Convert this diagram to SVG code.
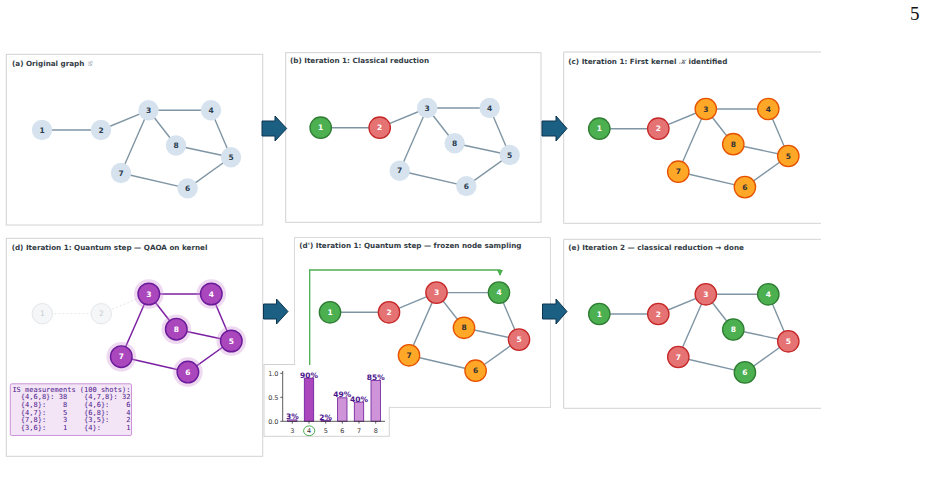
<svg xmlns="http://www.w3.org/2000/svg" width="927" height="483" viewBox="0 0 927 483">
<style>
.frame{fill:#fff;stroke:#d2d2d2;stroke-width:1}
.open{fill:none;stroke:#d2d2d2;stroke-width:1}
.e{stroke:#7f95a4;stroke-width:1.4;fill:none}
.ep{stroke:#7b1fa2;stroke-width:1.5;fill:none}
.ef{stroke:#e3e7ea;stroke-width:1;stroke-dasharray:2 2;fill:none}
.light{fill:#d6e3ef}
.green{fill:#4caf50;stroke:#2e7d32;stroke-width:1.3}
.red{fill:#e57373;stroke:#c62828;stroke-width:1.3}
.orange{fill:#ffa726;stroke:#e65100;stroke-width:1.3}
.purple{fill:#ab47bc;stroke:#6a1b9a;stroke-width:1.4}
.halo{fill:#ce93d8;opacity:0.35}
.faded{fill:#f5f6f7;stroke:#e3e6ea;stroke-width:1}
.lbl{font-family:"DejaVu Sans",sans-serif;font-size:7.5px;font-weight:bold;text-anchor:middle;dominant-baseline:central}
.ld{fill:#2c3e50}
.lo{fill:#333}
.lw{fill:#fff}
.lf{fill:#c6cbd0;font-weight:normal}
.title{font-family:"DejaVu Sans",sans-serif;font-size:7.2px;font-weight:bold;fill:#333c45}
.arrow{fill:#1b5f82;stroke:#0d3550;stroke-width:1}
.tick{font-family:"DejaVu Sans",sans-serif;font-size:6.5px;fill:#333}
.pct{font-family:"DejaVu Sans",sans-serif;font-size:7.5px;font-weight:bold;fill:#4a148c;text-anchor:middle}
.bar{fill:#ce93d8;stroke:#6a1b9a;stroke-width:0.8}
.bar4{fill:#ab47bc;stroke:#6a1b9a;stroke-width:0.8}
.ax{stroke:#333;stroke-width:0.8;fill:none}
.mono{font-family:"DejaVu Sans Mono",monospace;font-size:7px;fill:#4a148c;white-space:pre}
</style>
<defs>
<marker id="gh" viewBox="0 0 6 6" refX="5" refY="3" markerWidth="6" markerHeight="6" orient="auto" markerUnits="userSpaceOnUse">
<path d="M0,0 L6,3 L0,6 Z" fill="#4caf50"/>
</marker>
</defs>
<rect width="927" height="483" fill="#fff"/>
<text x="910" y="20" font-family="Liberation Serif, serif" font-size="19" fill="#111">5</text>

<!-- frames -->
<g id="frames">
<rect class="frame" x="6.3" y="54.3" width="256.4" height="170.7"/>
<rect class="frame" x="285.7" y="52.7" width="255.3" height="169.6"/>
<path class="open" d="M821,52 H563.7 V223.3 H821"/>
<rect class="frame" x="6.3" y="238.3" width="256.4" height="218"/>
<rect class="frame" x="294.7" y="237.7" width="255.6" height="169.6"/>
<rect class="frame" x="264" y="364.5" width="125.3" height="71.8"/>
<rect fill="#fff" x="295.2" y="238.2" width="254.6" height="168.6"/>
<path class="open" d="M821,239.3 H563.7 V408.3 H821"/>
</g>

<!-- connectors -->
<g id="connectors">
<g transform="translate(42,130)">
<line class="e" x1="0" y1="0" x2="59" y2="0"/><line class="e" x1="59" y1="0" x2="106.5" y2="-19.7"/><line class="e" x1="106.5" y1="-19.7" x2="169" y2="-19.7"/><line class="e" x1="106.5" y1="-19.7" x2="134" y2="15.5"/><line class="e" x1="106.5" y1="-19.7" x2="79" y2="43"/><line class="e" x1="169" y1="-19.7" x2="189" y2="27.3"/><line class="e" x1="134" y1="15.5" x2="189" y2="27.3"/><line class="e" x1="189" y1="27.3" x2="145.6" y2="58.4"/><line class="e" x1="79" y1="43" x2="145.6" y2="58.4"/>
</g>
<g transform="translate(320.7,127.7)">
<line class="e" x1="0" y1="0" x2="59" y2="0"/><line class="e" x1="59" y1="0" x2="106.5" y2="-19.7"/><line class="e" x1="106.5" y1="-19.7" x2="169" y2="-19.7"/><line class="e" x1="106.5" y1="-19.7" x2="134" y2="15.5"/><line class="e" x1="106.5" y1="-19.7" x2="79" y2="43"/><line class="e" x1="169" y1="-19.7" x2="189" y2="27.3"/><line class="e" x1="134" y1="15.5" x2="189" y2="27.3"/><line class="e" x1="189" y1="27.3" x2="145.6" y2="58.4"/><line class="e" x1="79" y1="43" x2="145.6" y2="58.4"/>
</g>
<g transform="translate(599.3,128.7)">
<line class="e" x1="0" y1="0" x2="59" y2="0"/><line class="e" x1="59" y1="0" x2="106.5" y2="-19.7"/><line class="e" x1="106.5" y1="-19.7" x2="169" y2="-19.7"/><line class="e" x1="106.5" y1="-19.7" x2="134" y2="15.5"/><line class="e" x1="106.5" y1="-19.7" x2="79" y2="43"/><line class="e" x1="169" y1="-19.7" x2="189" y2="27.3"/><line class="e" x1="134" y1="15.5" x2="189" y2="27.3"/><line class="e" x1="189" y1="27.3" x2="145.6" y2="58.4"/><line class="e" x1="79" y1="43" x2="145.6" y2="58.4"/>
</g>
<g transform="translate(42.3,313.7)">
<line class="ef" x1="0" y1="0" x2="59" y2="0"/><line class="ef" x1="59" y1="0" x2="106.5" y2="-19.7"/><line class="ep" x1="106.5" y1="-19.7" x2="169" y2="-19.7"/><line class="ep" x1="106.5" y1="-19.7" x2="134" y2="15.5"/><line class="ep" x1="106.5" y1="-19.7" x2="79" y2="43"/><line class="ep" x1="169" y1="-19.7" x2="189" y2="27.3"/><line class="ep" x1="134" y1="15.5" x2="189" y2="27.3"/><line class="ep" x1="189" y1="27.3" x2="145.6" y2="58.4"/><line class="ep" x1="79" y1="43" x2="145.6" y2="58.4"/>
</g>
<g transform="translate(330,312.3)">
<line class="e" x1="0" y1="0" x2="59" y2="0"/><line class="e" x1="59" y1="0" x2="106.5" y2="-19.7"/><line class="e" x1="106.5" y1="-19.7" x2="169" y2="-19.7"/><line class="e" x1="106.5" y1="-19.7" x2="134" y2="15.5"/><line class="e" x1="106.5" y1="-19.7" x2="79" y2="43"/><line class="e" x1="169" y1="-19.7" x2="189" y2="27.3"/><line class="e" x1="134" y1="15.5" x2="189" y2="27.3"/><line class="e" x1="189" y1="27.3" x2="145.6" y2="58.4"/><line class="e" x1="79" y1="43" x2="145.6" y2="58.4"/>
</g>
<g transform="translate(599.3,314)">
<line class="e" x1="0" y1="0" x2="59" y2="0"/><line class="e" x1="59" y1="0" x2="106.5" y2="-19.7"/><line class="e" x1="106.5" y1="-19.7" x2="169" y2="-19.7"/><line class="e" x1="106.5" y1="-19.7" x2="134" y2="15.5"/><line class="e" x1="106.5" y1="-19.7" x2="79" y2="43"/><line class="e" x1="169" y1="-19.7" x2="189" y2="27.3"/><line class="e" x1="134" y1="15.5" x2="189" y2="27.3"/><line class="e" x1="189" y1="27.3" x2="145.6" y2="58.4"/><line class="e" x1="79" y1="43" x2="145.6" y2="58.4"/>
</g>
<path d="M309.7,365 V270 H500 V275" fill="none" stroke="#4caf50" stroke-width="1.3" marker-end="url(#gh)"/>
</g>

<!-- panel (a) nodes -->
<g transform="translate(42,130)">
<g id="a-n1"><circle class="light" r="10.2"/><text class="lbl ld">1</text></g>
<g id="a-n2" transform="translate(59,0)"><circle class="light" r="10.2"/><text class="lbl ld">2</text></g>
<g id="a-n3" transform="translate(106.5,-19.7)"><circle class="light" r="10.2"/><text class="lbl ld">3</text></g>
<g id="a-n4" transform="translate(169,-19.7)"><circle class="light" r="10.2"/><text class="lbl ld">4</text></g>
<g id="a-n8" transform="translate(134,15.5)"><circle class="light" r="10.2"/><text class="lbl ld">8</text></g>
<g id="a-n5" transform="translate(189,27.3)"><circle class="light" r="10.2"/><text class="lbl ld">5</text></g>
<g id="a-n7" transform="translate(79,43)"><circle class="light" r="10.2"/><text class="lbl ld">7</text></g>
<g id="a-n6" transform="translate(145.6,58.4)"><circle class="light" r="10.2"/><text class="lbl ld">6</text></g>
</g>

<!-- panel (b) nodes -->
<g transform="translate(320.7,127.7)">
<g id="b-n1"><circle class="green" r="10.7"/><text class="lbl lw">1</text></g>
<g id="b-n2" transform="translate(59,0)"><circle class="red" r="10.7"/><text class="lbl lw">2</text></g>
<g id="b-n3" transform="translate(106.5,-19.7)"><circle class="light" r="10.2"/><text class="lbl ld">3</text></g>
<g id="b-n4" transform="translate(169,-19.7)"><circle class="light" r="10.2"/><text class="lbl ld">4</text></g>
<g id="b-n8" transform="translate(134,15.5)"><circle class="light" r="10.2"/><text class="lbl ld">8</text></g>
<g id="b-n5" transform="translate(189,27.3)"><circle class="light" r="10.2"/><text class="lbl ld">5</text></g>
<g id="b-n7" transform="translate(79,43)"><circle class="light" r="10.2"/><text class="lbl ld">7</text></g>
<g id="b-n6" transform="translate(145.6,58.4)"><circle class="light" r="10.2"/><text class="lbl ld">6</text></g>
</g>

<!-- panel (c) nodes -->
<g transform="translate(599.3,128.7)">
<g id="c-n1"><circle class="green" r="10.7"/><text class="lbl lw">1</text></g>
<g id="c-n2" transform="translate(59,0)"><circle class="red" r="10.7"/><text class="lbl lw">2</text></g>
<g id="c-n3" transform="translate(106.5,-19.7)"><circle class="orange" r="10.7"/><text class="lbl lo">3</text></g>
<g id="c-n4" transform="translate(169,-19.7)"><circle class="orange" r="10.7"/><text class="lbl lo">4</text></g>
<g id="c-n8" transform="translate(134,15.5)"><circle class="orange" r="10.7"/><text class="lbl lo">8</text></g>
<g id="c-n5" transform="translate(189,27.3)"><circle class="orange" r="10.7"/><text class="lbl lo">5</text></g>
<g id="c-n7" transform="translate(79,43)"><circle class="orange" r="10.7"/><text class="lbl lo">7</text></g>
<g id="c-n6" transform="translate(145.6,58.4)"><circle class="orange" r="10.7"/><text class="lbl lo">6</text></g>
</g>

<!-- panel (d) nodes -->
<g transform="translate(42.3,313.7)">
<g id="d-n1"><circle class="faded" r="10.2"/><text class="lbl lf">1</text></g>
<g id="d-n2" transform="translate(59,0)"><circle class="faded" r="10.2"/><text class="lbl lf">2</text></g>
<g id="d-n3" transform="translate(106.5,-19.7)"><circle class="halo" r="14.8"/><circle class="purple" r="10.8"/><text class="lbl lw">3</text></g>
<g id="d-n4" transform="translate(169,-19.7)"><circle class="halo" r="14.8"/><circle class="purple" r="10.8"/><text class="lbl lw">4</text></g>
<g id="d-n8" transform="translate(134,15.5)"><circle class="halo" r="14.8"/><circle class="purple" r="10.8"/><text class="lbl lw">8</text></g>
<g id="d-n5" transform="translate(189,27.3)"><circle class="halo" r="14.8"/><circle class="purple" r="10.8"/><text class="lbl lw">5</text></g>
<g id="d-n7" transform="translate(79,43)"><circle class="halo" r="14.8"/><circle class="purple" r="10.8"/><text class="lbl lw">7</text></g>
<g id="d-n6" transform="translate(145.6,58.4)"><circle class="halo" r="14.8"/><circle class="purple" r="10.8"/><text class="lbl lw">6</text></g>
</g>

<!-- panel (d') nodes -->
<g transform="translate(330,312.3)">
<g id="dp-n1"><circle class="green" r="10.7"/><text class="lbl lw">1</text></g>
<g id="dp-n2" transform="translate(59,0)"><circle class="red" r="10.7"/><text class="lbl lw">2</text></g>
<g id="dp-n3" transform="translate(106.5,-19.7)"><circle class="red" r="10.7"/><text class="lbl lw">3</text></g>
<g id="dp-n4" transform="translate(169,-19.7)"><circle class="green" r="10.7"/><text class="lbl lw">4</text></g>
<g id="dp-n8" transform="translate(134,15.5)"><circle class="orange" r="10.7"/><text class="lbl lo">8</text></g>
<g id="dp-n5" transform="translate(189,27.3)"><circle class="red" r="10.7"/><text class="lbl lw">5</text></g>
<g id="dp-n7" transform="translate(79,43)"><circle class="orange" r="10.7"/><text class="lbl lo">7</text></g>
<g id="dp-n6" transform="translate(145.6,58.4)"><circle class="orange" r="10.7"/><text class="lbl lo">6</text></g>
</g>

<!-- panel (e) nodes -->
<g transform="translate(599.3,314)">
<g id="e-n1"><circle class="green" r="10.7"/><text class="lbl lw">1</text></g>
<g id="e-n2" transform="translate(59,0)"><circle class="red" r="10.7"/><text class="lbl lw">2</text></g>
<g id="e-n3" transform="translate(106.5,-19.7)"><circle class="red" r="10.7"/><text class="lbl lw">3</text></g>
<g id="e-n4" transform="translate(169,-19.7)"><circle class="green" r="10.7"/><text class="lbl lw">4</text></g>
<g id="e-n8" transform="translate(134,15.5)"><circle class="green" r="10.7"/><text class="lbl lw">8</text></g>
<g id="e-n5" transform="translate(189,27.3)"><circle class="red" r="10.7"/><text class="lbl lw">5</text></g>
<g id="e-n7" transform="translate(79,43)"><circle class="red" r="10.7"/><text class="lbl lw">7</text></g>
<g id="e-n6" transform="translate(145.6,58.4)"><circle class="green" r="10.7"/><text class="lbl lw">6</text></g>
</g>

<!-- titles -->
<g id="titles">
<text class="title" x="12" y="66">(a)  Original graph <tspan font-family="DejaVu Serif, serif" font-style="italic" font-weight="normal" fill="#8a9299">𝒢</tspan></text>
<text class="title" x="290" y="63.3">(b)  Iteration 1: Classical reduction</text>
<text class="title" x="568.3" y="64">(c) Iteration 1: First kernel <tspan font-family="DejaVu Serif, serif" font-style="italic" font-weight="normal">𝒦</tspan> identified</text>
<text class="title" x="11.7" y="249.5">(d) Iteration 1: Quantum step — QAOA on kernel</text>
<text class="title" x="299.3" y="248">(d') Iteration 1: Quantum step — frozen node sampling</text>
<text class="title" x="568.3" y="250">(e)  Iteration 2 — classical reduction → done</text>
</g>

<!-- block arrows -->
<g id="arrows">
<polygon class="arrow" points="262,121 275,121 275,116 286.7,128.5 275,141 275,136 262,136"/>
<polygon class="arrow" points="542,121 556,121 556,116 567,128.5 556,141 556,136 542,136"/>
<polygon class="arrow" points="263.5,304 276.5,304 276.5,299 288,311.5 276.5,324 276.5,319 263.5,319"/>
<polygon class="arrow" points="542.5,304 556,304 556,299 567,311.5 556,324 556,319 542.5,319"/>
</g>

<!-- bar chart inset -->
<g id="chart">
<rect class="bar" x="287.6" y="419.9" width="9.4" height="1.4"/>
<rect class="bar4" x="304.3" y="378.1" width="9.4" height="43.2"/>
<rect class="bar" x="321" y="420.3" width="9.4" height="1"/>
<rect class="bar" x="337.6" y="397.8" width="9.4" height="23.5"/>
<rect class="bar" x="354.3" y="402.1" width="9.4" height="19.2"/>
<rect class="bar" x="371" y="380.5" width="9.4" height="40.8"/>
<path class="ax" d="M282.7,371 V421.3 H385"/>
<path class="ax" d="M280.3,373.3 H282.7 M280.3,397.3 H282.7 M280.3,421.3 H282.7 M292.3,421.3 V423.6 M309,421.3 V423.6 M325.7,421.3 V423.6 M342.3,421.3 V423.6 M359,421.3 V423.6 M375.7,421.3 V423.6"/>
<text class="tick" x="278.5" y="375.6" text-anchor="end">1.0</text>
<text class="tick" x="278.5" y="399.6" text-anchor="end">0.5</text>
<text class="tick" x="278.5" y="423.6" text-anchor="end">0.0</text>
<g class="tick" text-anchor="middle">
<text x="292.3" y="433">3</text><text x="309" y="433">4</text><text x="325.7" y="433">5</text><text x="342.3" y="433">6</text><text x="359" y="433">7</text><text x="375.7" y="433">8</text>
</g>
<ellipse cx="309.2" cy="430.8" rx="5.6" ry="4.9" fill="none" stroke="#4caf50" stroke-width="1"/>
<text class="pct" x="292.3" y="419.4">3%</text>
<text class="pct" x="309" y="377.6">90%</text>
<text class="pct" x="325.7" y="419.8">2%</text>
<text class="pct" x="342.3" y="397.3">49%</text>
<text class="pct" x="359" y="401.6">40%</text>
<text class="pct" x="375.7" y="380">85%</text>
</g>

<!-- IS measurements box -->
<g id="is-box">
<rect x="10.3" y="383.8" width="121.2" height="51.7" rx="1.5" fill="#f3e5f5" stroke="#ce93d8" stroke-width="1"/>
<text class="mono" x="12.4" y="391.5">IS measurements (100 shots):</text>
<text class="mono" x="12.4" y="399.2">  {4,6,8}: 38    {4,7,8}: 32</text>
<text class="mono" x="12.4" y="406.9">  {4,8}:    8    {4,6}:    6</text>
<text class="mono" x="12.4" y="414.6">  {4,7}:    5    {6,8}:    4</text>
<text class="mono" x="12.4" y="422.3">  {7,8}:    3    {3,5}:    2</text>
<text class="mono" x="12.4" y="430">  {3,6}:    1    {4}:      1</text>
</g>
</svg>
